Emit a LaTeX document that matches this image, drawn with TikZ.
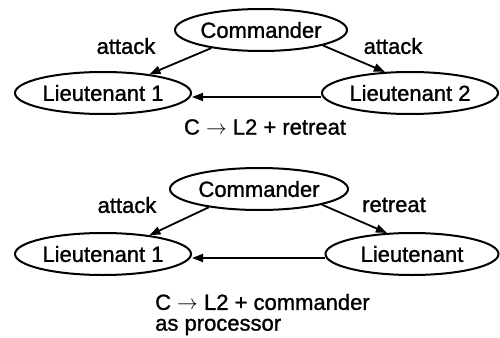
\documentclass[tikz,border=0pt]{standalone}
\usepackage{fontspec}
\setmainfont[FakeBold=1.2]{Liberation Sans}
\usetikzlibrary{shapes.geometric,arrows.meta}
\begin{document}
\begin{tikzpicture}[x=1pt,y=-1pt,
  every node/.style={font=\fontsize{22}{26}\selectfont},
  agent/.style={ellipse,draw,line width=2pt,inner sep=0pt,
    minimum width=176pt,minimum height=42pt},
  msg/.style={line width=1.8pt,-{Triangle[length=11pt,width=8pt]}},
  lbl/.style={inner sep=0pt}]
\useasboundingbox (0,0) rectangle (500,337);

% upper scenario: both lieutenants receive "attack"
\node[agent,minimum width=172pt] (c1) at (261,30) {Commander};
\node[agent] (a1) at (103,93) {Lieutenant 1};
\node[agent] (b1) at (410,93) {Lieutenant 2};
\draw[msg] (c1.200) -- (a1.22);
\draw[msg] (c1.346) -- (b1.140);
\draw[msg] ([yshift=-4pt]b1.west) -- ([yshift=-4pt]a1.east);
\node[lbl] (t1) at (126,46) {attack};
\node[lbl] (t2) at (393,46) {attack};
\node[lbl] (t3) at (265,127) {C $\rightarrow$ L2 + retreat};

% lower scenario: faulty commander
\node[agent,minimum width=178pt] (c2) at (259,189) {Commander};
\node[agent] (a2) at (103,254) {Lieutenant 1};
\node[agent,minimum width=173pt] (b2) at (412,254) {Lieutenant};
\draw[msg] (c2.200) -- (a2.22);
\draw[msg] (c2.346) -- (b2.140);
\draw[msg] ([yshift=-4pt]b2.west) -- ([yshift=-4pt]a2.east);
\node[lbl] (t4) at (127,205) {attack};
\node[lbl] (t5) at (394,205) {retreat};
\node[lbl,anchor=west] (t6) at (155,302) {C $\rightarrow$ L2 + commander};
\node[lbl,anchor=west] (t7) at (155,327) {as processor};
\end{tikzpicture}
\end{document}
